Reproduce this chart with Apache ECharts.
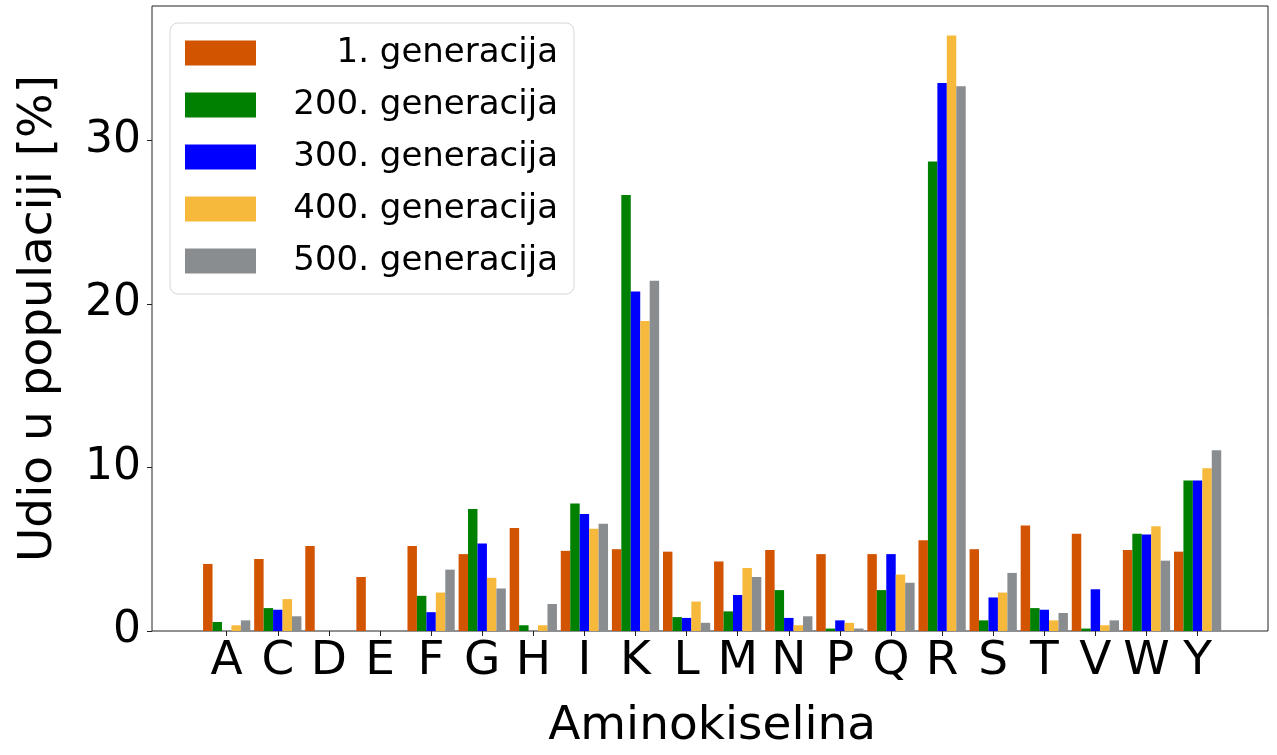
<!DOCTYPE html>
<html>
<head>
<meta charset="utf-8">
<script src="https://cdn.jsdelivr.net/npm/echarts@6/dist/echarts.min.js"></script>
<style>
  html, body { margin: 0; padding: 0; background: #fff; }
  #chart { width: 1277px; height: 755px; }
</style>
</head>
<body>
<div id="chart"></div>
<script>
// aminokiseline na x osi
const categories = ['A', 'C', 'D', 'E', 'F', 'G', 'H', 'I', 'K', 'L', 'M', 'N', 'P', 'Q', 'R', 'S', 'T', 'V', 'W', 'Y']
const seriesNames = ['1. generacija', '200. generacija', '300. generacija', '400. generacija', '500. generacija']

// udio u populaciji [%] po generaciji
const gen1 = [4.1, 4.4, 5.2, 3.3, 5.2, 4.7, 6.3, 4.9, 5.0, 4.85, 4.25, 4.95, 4.7, 4.7, 5.55, 5.0, 6.45, 5.95, 4.95, 4.85]
const gen200 = [0.55, 1.4, 0, 0, 2.15, 7.45, 0.35, 7.8, 26.65, 0.85, 1.2, 2.5, 0.15, 2.5, 28.7, 0.65, 1.4, 0.15, 5.95, 9.2]
const gen300 = [0, 1.3, 0, 0, 1.15, 5.35, 0, 7.15, 20.75, 0.8, 2.2, 0.8, 0.65, 4.7, 33.5, 2.05, 1.3, 2.55, 5.9, 9.2]
const gen400 = [0.35, 1.95, 0, 0, 2.35, 3.25, 0.35, 6.25, 18.95, 1.8, 3.85, 0.35, 0.5, 3.45, 36.4, 2.35, 0.65, 0.35, 6.4, 9.95]
const gen500 = [0.65, 0.9, 0, 0, 3.75, 2.6, 1.65, 6.55, 21.4, 0.5, 3.3, 0.9, 0.15, 2.95, 33.3, 3.55, 1.1, 0.65, 4.3, 11.05]

const yTicks = [0, 10, 20, 30]
const yMax = 38.2

const colors = ['#d35400', '#008000', '#0000ff', '#f6b93b', '#8a8d90']
const allData = [gen1, gen200, gen300, gen400, gen500]
const font = 'DejaVu Sans'

const chart = echarts.init(document.getElementById('chart'))

const option = {
  animation: false,
  textStyle: { fontFamily: font },
  grid: [
    // okvir + y os
    { left: 152, right: 9, top: 6, bottom: 124, show: true, borderColor: '#222', borderWidth: 1, backgroundColor: 'transparent' },
    // stupci
    { left: 201.15, right: 53.85, top: 6, bottom: 124 }
  ],
  legend: {
    orient: 'vertical',
    left: 170,
    top: 23,
    padding: [13, 16, 16, 15],
    itemWidth: 71,
    itemHeight: 25,
    itemGap: 18,
    itemTextGap: 5,
    icon: 'rect',
    borderColor: '#d6d6d6',
    borderWidth: 1,
    borderRadius: 8,
    backgroundColor: '#fff',
    data: seriesNames,
    formatter: name => '{t|' + name + '}',
    textStyle: {
      fontFamily: font,
      color: '#000',
      rich: {
        t: { fontFamily: font, fontSize: 34, lineHeight: 34, width: 297, align: 'right', color: '#000' }
      }
    }
  },
  xAxis: [
    { type: 'value', gridIndex: 0, min: 0, max: 1, show: false },
    {
      type: 'category',
      gridIndex: 1,
      data: categories,
      name: 'Aminokiselina',
      nameLocation: 'middle',
      nameGap: 72,
      nameTextStyle: { fontFamily: font, fontSize: 47, color: '#000' },
      axisLine: { show: false },
      axisTick: { show: true, alignWithLabel: true, interval: 0, length: 5, lineStyle: { color: '#222' } },
      axisLabel: { fontFamily: font, fontSize: 47, color: '#000', margin: 7, interval: 0 },
      splitLine: { show: false }
    }
  ],
  yAxis: [
    {
      type: 'value',
      gridIndex: 0,
      min: 0,
      max: yMax,
      interval: 10,
      name: 'Udio u populaciji [%]',
      nameLocation: 'middle',
      nameGap: 90,
      nameTextStyle: { fontFamily: font, fontSize: 47, color: '#000' },
      axisLine: { show: false },
      axisTick: { show: true, length: 5, lineStyle: { color: '#222' }, customValues: yTicks },
      axisLabel: { fontFamily: font, fontSize: 44, color: '#000', margin: 11, customValues: yTicks },
      splitLine: { show: false }
    },
    { type: 'value', gridIndex: 1, min: 0, max: yMax, show: false }
  ],
  series: seriesNames.map((name, i) => ({
    name: name,
    type: 'bar',
    xAxisIndex: 1,
    yAxisIndex: 1,
    data: allData[i],
    barWidth: 9.45,
    barGap: '0%',
    itemStyle: { color: colors[i] }
  }))
}

chart.setOption(option)

window.addEventListener('resize', () => {
  chart.resize()
})
</script>
</body>
</html>
